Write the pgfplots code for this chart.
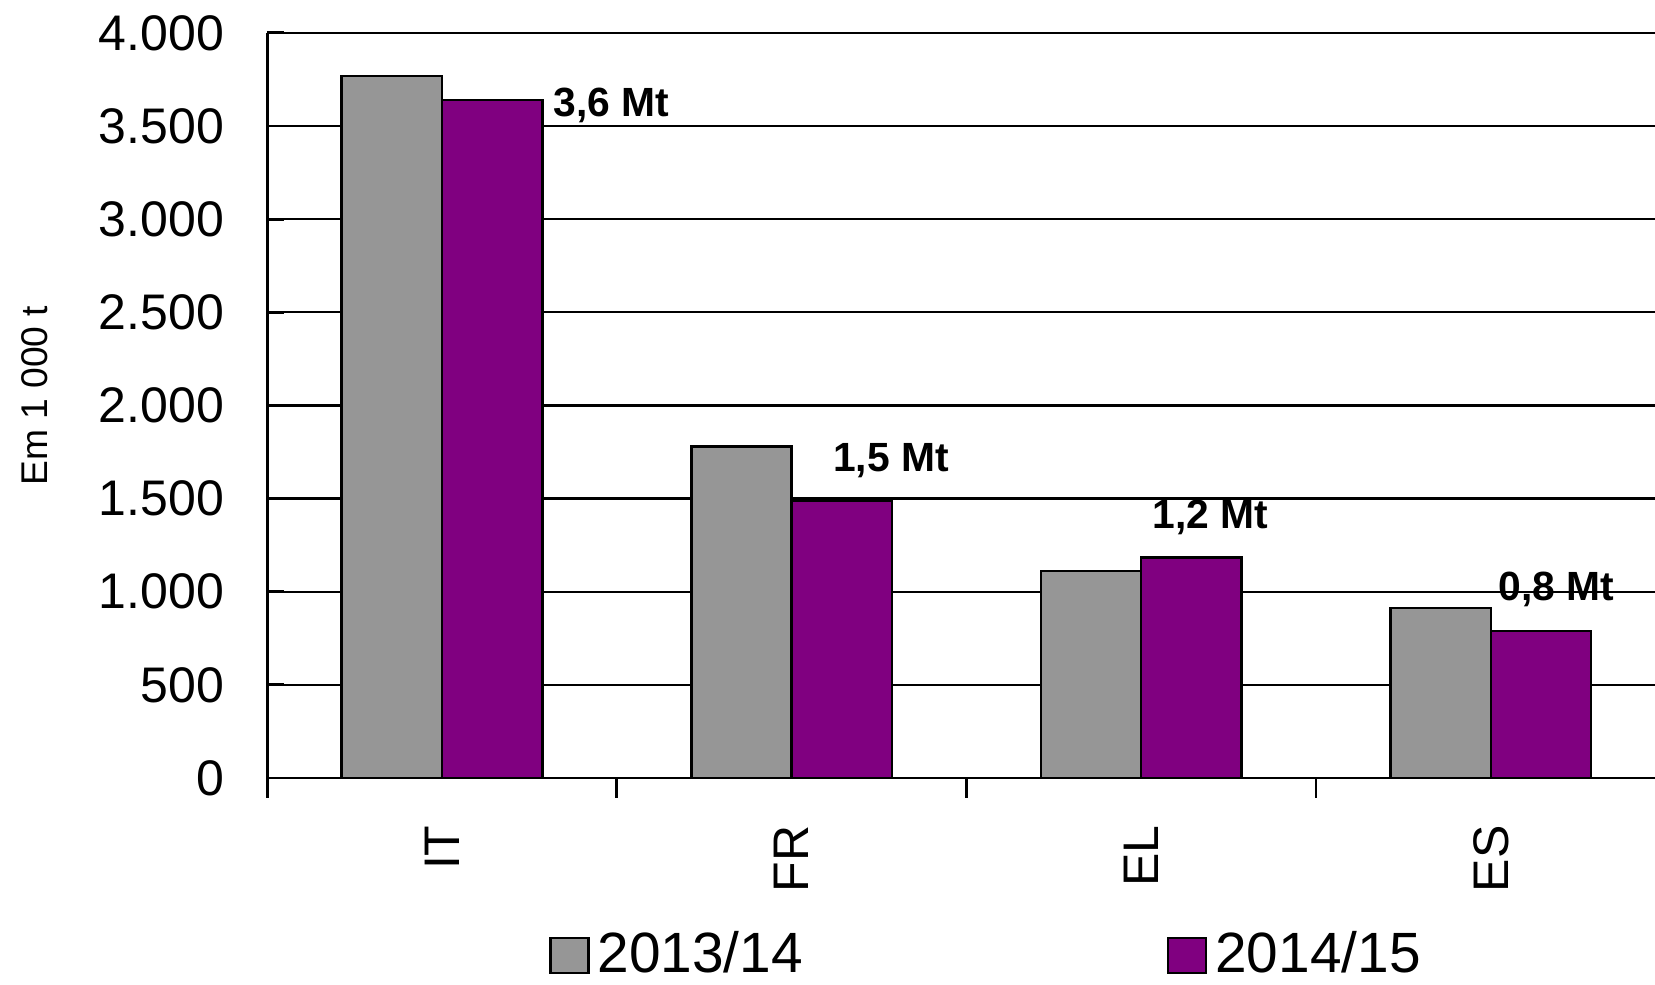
\documentclass[border=0pt]{standalone}
\usepackage{fontspec}
\setmainfont{Liberation Sans}
\usepackage{pgfplots}
\pgfplotsset{compat=1.18}
\definecolor{cgray}{RGB}{150,150,150}
\definecolor{cpurple}{RGB}{128,0,128}
\pgfplotsset{sqlegend/.style={legend image code/.code={\draw[##1,line width=0.6pt] (-1pt,-4.35pt) rectangle (8.5pt,4.35pt);}}}
\begin{document}
\begin{tikzpicture}
\useasboundingbox (-66.8pt,-51.7pt) rectangle (346.95pt,194.5pt);
\clip (-66.8pt,-51.7pt) rectangle (346.95pt,194.5pt);
\begin{axis}[
  scale only axis, width=347pt, height=186.3pt,
  ybar=0pt, bar width=0.287,
  xmin=-0.5, xmax=3.47, ymin=0, ymax=4000,
  axis lines*=left, axis line style={-, line width=0.7pt, black},
  xtick={0,1,2,3}, xticklabels={IT,FR,EL,ES},
  major x tick style={draw=none},
  minor xtick={-0.5,0.5,1.5,2.5},
  minor x tick style={black, line width=0.7pt},
  minor tick length=4.9pt,
  xtick align=outside,
  xticklabel shift=7.4pt,
  xticklabel style={rotate=90, anchor=east, inner sep=0pt, font=\fontsize{12.5}{14}\selectfont},
  ytick={0,500,...,4000},
  ytick align=inside,
  major y tick style={black, line width=0.7pt},
  yticklabel shift=10.6pt,
  yticklabel style={inner sep=0pt, font=\fontsize{12.5}{14}\selectfont},
  /pgf/number format/.cd, 1000 sep={.}, assume math mode=true, /pgfplots/.cd,
  ymajorgrids, grid style={black, line width=0.6pt},
  ylabel={Em 1 000 t},
  ylabel style={at={(axis description cs:-0.1674,0.513)}, anchor=center, font=\fontsize{9.3}{11}\selectfont},
  legend style={at={(axis description cs:0.52,-0.238)}, anchor=center, draw=none, fill=none,
    legend columns=2, font=\fontsize{14.2}{16}\selectfont,
    /tikz/every even column/.append style={column sep=89pt}},
]
\addplot[fill=cgray, draw=black, line width=0.6pt, sqlegend] coordinates {(0,3768) (1,1779) (2,1110) (3,912)};
\addplot[fill=cpurple, draw=black, line width=0.6pt, sqlegend] coordinates {(0,3638) (1,1490) (2,1184) (3,788)};
\legend{2013/14, 2014/15}
\node[font=\fontsize{10.2}{12}\bfseries\selectfont] at (axis cs:0.484,3609) {3,6 Mt};
\node[font=\fontsize{10.2}{12}\bfseries\selectfont] at (axis cs:1.284,1705) {1,5 Mt};
\node[font=\fontsize{10.2}{12}\bfseries\selectfont] at (axis cs:2.198,1400) {1,2 Mt};
\node[font=\fontsize{10.2}{12}\bfseries\selectfont] at (axis cs:3.187,1014) {0,8 Mt};
\end{axis}
\end{tikzpicture}
\end{document}
